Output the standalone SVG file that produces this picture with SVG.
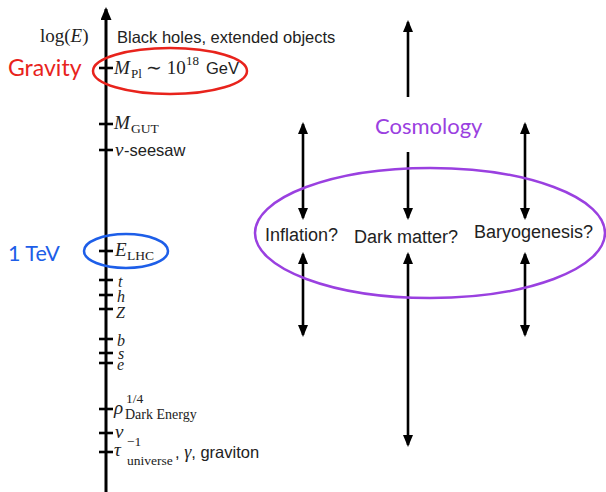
<svg xmlns="http://www.w3.org/2000/svg" width="606" height="492" viewBox="0 0 606 492">
<style>
.serif{font-family:"Liberation Serif","Times New Roman",serif;fill:#222}
.it{font-style:italic}
.sans{font-family:"Liberation Sans",Arial,sans-serif;fill:#222}
.lab{font-family:Lato,"Open Sans",sans-serif}
.tick{stroke:#000;stroke-width:2.6}
.arr{stroke:#000;stroke-width:2.6;fill:none}
.ell{fill:none;stroke-width:2.5}
</style>
<defs>
<marker id="ah" viewBox="0 0 12 10" refX="10" refY="5" markerWidth="12" markerHeight="10" markerUnits="userSpaceOnUse" orient="auto-start-reverse">
<path d="M0,0 L12,5 L0,10 z" fill="#000"/>
</marker>
<marker id="ahBig" viewBox="0 0 13 11" refX="11" refY="5.5" markerWidth="13" markerHeight="11" markerUnits="userSpaceOnUse" orient="auto">
<path d="M0,0 L13,5.5 L0,11 z" fill="#000"/>
</marker>
</defs>

<g id="connectors">
<line class="arr" x1="106" y1="492" x2="106" y2="9" marker-end="url(#ahBig)" style="stroke-width:3"/>
<line class="arr" x1="303" y1="124" x2="303" y2="218" marker-start="url(#ah)" marker-end="url(#ah)"/>
<line class="arr" x1="303" y1="254" x2="303" y2="335" marker-start="url(#ah)" marker-end="url(#ah)"/>
<line class="arr" x1="408" y1="97" x2="408" y2="22" marker-end="url(#ah)"/>
<line class="arr" x1="408" y1="152" x2="408" y2="218" marker-end="url(#ah)"/>
<line class="arr" x1="408" y1="254" x2="408" y2="445" marker-start="url(#ah)" marker-end="url(#ah)"/>
<line class="arr" x1="525" y1="124" x2="525" y2="218" marker-start="url(#ah)" marker-end="url(#ah)"/>
<line class="arr" x1="525" y1="254" x2="525" y2="335" marker-start="url(#ah)" marker-end="url(#ah)"/>
</g>

<g id="axis-labels">
<text class="serif" x="40" y="42" font-size="19">log(<tspan class="it">E</tspan>)</text>
<text class="sans" x="117" y="43" font-size="16.5">Black holes, extended objects</text>
</g>

<g id="ticks">
<line class="tick" x1="99" y1="68" x2="113" y2="68"/>
<line class="tick" x1="99" y1="124" x2="113" y2="124"/>
<line class="tick" x1="99" y1="150" x2="113" y2="150"/>
<line class="tick" x1="99" y1="251" x2="113" y2="251"/>
<line class="tick" x1="99" y1="280" x2="113" y2="280"/>
<line class="tick" x1="99" y1="295" x2="113" y2="295"/>
<line class="tick" x1="99" y1="309" x2="113" y2="309"/>
<line class="tick" x1="99" y1="339" x2="113" y2="339"/>
<line class="tick" x1="99" y1="353" x2="113" y2="353"/>
<line class="tick" x1="99" y1="363" x2="113" y2="363"/>
<line class="tick" x1="99" y1="409" x2="113" y2="409"/>
<line class="tick" x1="99" y1="433" x2="113" y2="433"/>
<line class="tick" x1="99" y1="452" x2="113" y2="452"/>
</g>

<g id="gravity">
<ellipse class="ell" cx="170" cy="71" rx="77" ry="23" stroke="#e8231c"/>
<text class="lab" x="8" y="76" font-size="23" fill="#e8231c">Gravity</text>
<text class="serif" y="74" font-size="19"><tspan class="it" x="114">M</tspan><tspan x="131" y="78" font-size="13">Pl</tspan><tspan x="146" y="74">∼ 10</tspan><tspan x="186" y="65" font-size="13">18</tspan></text>
<text class="sans" x="206" y="74" font-size="16.5">GeV</text>
</g>

<g id="mgut">
<text class="serif" y="129" font-size="19"><tspan class="it" x="114">M</tspan><tspan x="131" y="133" font-size="13.5">GUT</tspan></text>
</g>

<g id="seesaw">
<text class="serif it" x="115" y="156" font-size="19">ν</text>
<text class="sans" x="124" y="156" font-size="16.5">-seesaw</text>
</g>

<g id="lhc">
<ellipse class="ell" cx="126" cy="251" rx="42" ry="17" stroke="#1d5ee8"/>
<text class="lab" x="8" y="261" font-size="21.5" fill="#1d5ee8">1 TeV</text>
<text class="serif" y="256" font-size="19"><tspan class="it" x="115">E</tspan><tspan x="127" y="260" font-size="13.5">LHC</tspan></text>
</g>

<g id="particles">
<text class="serif it" x="118" y="287" font-size="16">t</text>
<text class="serif it" x="117" y="302" font-size="16">h</text>
<text class="serif it" x="116" y="318" font-size="16">Z</text>
<text class="serif it" x="117" y="346" font-size="16">b</text>
<text class="serif it" x="118" y="359" font-size="16">s</text>
<text class="serif it" x="117" y="370" font-size="16">e</text>
</g>

<g id="dark-energy">
<text class="serif" y="414" font-size="19"><tspan class="it" x="114">ρ</tspan><tspan x="126" y="403" font-size="13.5">1/4</tspan><tspan x="125" y="419" font-size="14">Dark Energy</tspan></text>
</g>

<g id="nu">
<text class="serif it" x="115" y="438" font-size="19">ν</text>
</g>

<g id="tau">
<text class="serif" y="456" font-size="19"><tspan class="it" x="114">τ</tspan><tspan x="127" y="446" font-size="13.5">−1</tspan><tspan x="127" y="465" font-size="13.5">universe</tspan></text>
<text class="sans" x="175" y="458" font-size="16.5">, <tspan class="serif it" font-size="18">γ</tspan>, graviton</text>
</g>

<g id="cosmology">
<ellipse class="ell" cx="430" cy="233" rx="175" ry="65" stroke="#9a40e0"/>
<text class="lab" x="375" y="134" font-size="22" fill="#9a40e0">Cosmology</text>
</g>

<g id="inflation">
<text class="sans" x="265" y="241" font-size="18">Inflation?</text>
</g>
<g id="dark-matter">
<text class="sans" x="354" y="243" font-size="18">Dark matter?</text>
</g>
<g id="baryogenesis">
<text class="sans" x="474" y="238" font-size="18">Baryogenesis?</text>
</g>
</svg>
